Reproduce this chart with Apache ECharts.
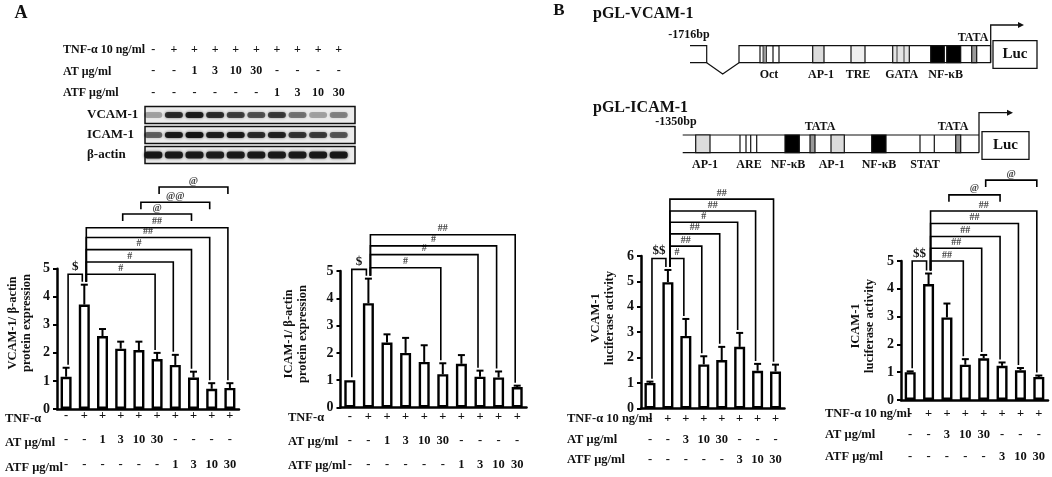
<!DOCTYPE html>
<html>
<head>
<meta charset="utf-8">
<script src="https://cdn.jsdelivr.net/npm/echarts@6/dist/echarts.min.js"></script>
<style>
  html, body { margin: 0; padding: 0; background: #fff; }
  #main { width: 1052px; height: 477px; }
</style>
</head>
<body>
<div id="main"></div>
<script>
// lanes of the western blot and of the protein panels
var laneTnf = ['-', '+', '+', '+', '+', '+', '+', '+', '+', '+'];
var laneAt = ['-', '-', '1', '3', '10', '30', '-', '-', '-', '-'];
var laneAtf = ['-', '-', '-', '-', '-', '-', '1', '3', '10', '30'];
var blotRows = ['VCAM-1', 'ICAM-1', 'β-actin'];
var bandVcam = [0.3, 0.8, 0.9, 0.8, 0.7, 0.62, 0.72, 0.48, 0.3, 0.42];
var bandIcam = [0.55, 0.9, 0.95, 0.88, 0.9, 0.8, 0.85, 0.75, 0.72, 0.6];
var bandActin = [0.92, 0.9, 0.9, 0.88, 0.9, 0.9, 0.9, 0.9, 0.9, 0.92];

// lanes of the luciferase panels
var lucTnf = ['-', '+', '+', '+', '+', '+', '+', '+'];
var lucAt = ['-', '-', '3', '10', '30', '-', '-', '-'];
var lucAtf = ['-', '-', '-', '-', '-', '3', '10', '30'];

// bar heights and tops of the error bars
var vcamProt = [1.15, 3.72, 2.6, 2.15, 2.1, 1.78, 1.57, 1.12, 0.72, 0.75];
var vcamProtTop = [1.47, 4.43, 2.85, 2.4, 2.4, 2.0, 1.93, 1.33, 0.92, 0.92];
var icamProt = [1.0, 3.82, 2.38, 2.0, 1.67, 1.22, 1.6, 1.13, 1.1, 0.75];
var icamProtTop = [1.0, 4.72, 2.68, 2.55, 2.28, 1.62, 1.92, 1.35, 1.32, 0.8];
var vcamLuc = [1.0, 4.97, 2.85, 1.73, 1.9, 2.42, 1.48, 1.45];
var vcamLucTop = [1.05, 5.45, 3.52, 2.05, 2.42, 2.97, 1.75, 1.72];
var icamLuc = [1.0, 4.17, 2.97, 1.27, 1.5, 1.23, 1.07, 0.83];
var icamLucTop = [1.03, 4.55, 3.47, 1.47, 1.62, 1.35, 1.15, 0.88];

// significance brackets: [from, to, level, mark, short legs]
var vcamProtSig = [
  [0, 1, 4.8, '$', 0], [1, 5, 4.8, '#', 0], [1, 6, 5.24, '#', 0], [1, 7, 5.68, '#', 0],
  [1, 8, 6.11, '##', 0], [1, 9, 6.46, '##', 0],
  [3, 7, 6.95, '@', 1], [4, 8, 7.37, '@@', 1], [5, 9, 7.91, '@', 1]
];
var icamProtSig = [
  [0, 1, 5.06, '$', 0], [1, 5, 5.12, '#', 0], [1, 7, 5.6, '#', 0], [1, 8, 5.92, '#', 0],
  [1, 9, 6.33, '##', 0]
];
var vcamLucSig = [
  [0, 1, 5.9, '$$', 0], [1, 2, 5.9, '#', 0], [1, 3, 6.39, '##', 0], [1, 4, 6.87, '##', 0],
  [1, 5, 7.33, '#', 0], [1, 6, 7.77, '##', 0], [1, 7, 8.24, '##', 0]
];
var icamLucSig = [
  [0, 1, 5.0, '$$', 0], [1, 3, 5.0, '##', 0], [1, 4, 5.46, '##', 0], [1, 5, 5.88, '##', 0],
  [1, 6, 6.35, '##', 0], [1, 7, 6.8, '##', 0],
  [2, 5, 7.38, '@', 1], [4, 7, 7.91, '@', 1]
];

var rowNames = ['TNF-α', 'AT μg/ml', 'ATF μg/ml'];
var rowNamesLuc = ['TNF-α 10 ng/ml', 'AT μg/ml', 'ATF μg/ml'];
var yNames = ['VCAM-1/ β-actin\nprotein expression', 'ICAM-1/ β-actin\nprotein expression',
  'VCAM-1\nluciferase activity', 'ICAM-1\nluciferase activity'];

var SERIF = '"Liberation Serif", "DejaVu Serif", serif';
var INK = '#111';

var panels = [
  { vals: vcamProt, tops: vcamProtTop, sig: vcamProtSig, max: 5, tnf: laneTnf, at: laneAt, atf: laneAtf, rows: rowNames,
    grid: { left: 57, top: 268.7, width: 182, height: 143.3 }, lh: 24.5, margin: -5.5, rowX: 5, nameAt: [20, 323] },
  { vals: icamProt, tops: icamProtTop, sig: icamProtSig, max: 5, tnf: laneTnf, at: laneAt, atf: laneAtf, rows: rowNames,
    grid: { left: 340.5, top: 271, width: 186, height: 137.7 }, lh: 24, margin: -2.5, rowX: 288, nameAt: [296, 334] },
  { vals: vcamLuc, tops: vcamLucTop, sig: vcamLucSig, max: 6, tnf: lucTnf, at: lucAt, atf: lucAtf, rows: rowNamesLuc,
    grid: { left: 641, top: 256, width: 143.5, height: 152.3 }, lh: 20.5, margin: 0.5, rowX: 567, nameAt: [603, 318] },
  { vals: icamLuc, tops: icamLucTop, sig: icamLucSig, max: 5, tnf: lucTnf, at: lucAt, atf: lucAtf, rows: rowNamesLuc,
    grid: { left: 901, top: 261, width: 147, height: 139 }, lh: 21.5, margin: 3, rowX: 825, nameAt: [862.5, 326] }
];

function font(size, weight) {
  return (weight || 'bold') + ' ' + size + 'px ' + SERIF;
}

function textStyle(s, size, align, vAlign, extra) {
  var st = { text: s, fill: INK, font: font(size), align: align || 'center', verticalAlign: vAlign || 'middle',
    textAlign: align || 'center', textVerticalAlign: vAlign || 'middle' };
  if (extra) for (var k in extra) st[k] = extra[k];
  return st;
}

// ---- drawing of the custom marks ----
function errItem(params, api) {
  var i = api.value(0), v = api.value(1), t = api.value(2);
  if (t <= v) return;
  var p0 = api.coord([i, v]), p1 = api.coord([i, t]);
  var st = { stroke: '#000', lineWidth: 2 };
  return { type: 'group', children: [
    { type: 'line', shape: { x1: p0[0], y1: p0[1], x2: p1[0], y2: p1[1] }, style: st },
    { type: 'line', shape: { x1: p1[0] - 3.5, y1: p1[1], x2: p1[0] + 3.5, y2: p1[1] }, style: st }
  ] };
}

function bracketItem(tops, sig) {
  return function (params, api) {
    var b = sig[params.dataIndex];
    var pa = api.coord([b[0], b[2]]), pb = api.coord([b[1], b[2]]);
    var xa = pa[0] + 2, xb = pb[0] - 2;
    var ya, yb;
    if (b[4]) {
      ya = yb = pa[1] + 7;
    } else {
      ya = api.coord([b[0], tops[b[0]]])[1] - 3;
      yb = api.coord([b[1], tops[b[1]]])[1] - 3;
    }
    var big = b[3].charAt(0) === '$';
    return { type: 'group', children: [
      { type: 'polyline', shape: { points: [[xa, ya], [xa, pa[1]], [xb, pb[1]], [xb, yb]] },
        style: { fill: null, stroke: '#000', lineWidth: 1.6 } },
      { type: 'text', x: (xa + xb) / 2, y: pa[1] - 1,
        style: textStyle(b[3], big ? 13 : 10, 'center', 'bottom', { fill: big ? INK : '#444' }) }
    ] };
  };
}

function bandItem(params, api) {
  var c = api.coord([api.value(0), api.value(1)]);
  var a = api.value(2);
  var h = api.value(1) === 2 ? 7 : 6;
  return { type: 'rect', shape: { x: c[0] - 9, y: c[1] - h / 2, width: 18, height: h, r: 3 },
    style: { fill: 'rgba(15,15,15,' + a + ')', shadowBlur: 3, shadowColor: 'rgba(15,15,15,' + (a * 0.8) + ')' } };
}

function blotBoxItem(params, api) {
  var cs = params.coordSys;
  var c = api.coord([0, api.value(1)]);
  return { type: 'rect', shape: { x: cs.x + 2, y: c[1] - 8.5, width: cs.width + 4, height: 17 },
    style: { fill: '#ececec', stroke: INK, lineWidth: 1.5 } };
}

// ---- axes and series ----
var grids = [{ left: 143, top: 105, width: 206, height: 60 }];
var xAxes = [{
  gridIndex: 0, type: 'category', position: 'top', data: laneTnf.map(function (v, i) { return String(i); }),
  axisLine: { show: false }, axisTick: { show: false },
  axisLabel: { interval: 0, margin: 1.5, lineHeight: 21.5, color: INK, fontFamily: SERIF, fontWeight: 'bold', fontSize: 12,
    formatter: function (v, i) { return laneTnf[i] + '\n' + laneAt[i] + '\n' + laneAtf[i]; } }
}];
var yAxes = [{
  gridIndex: 0, type: 'category', inverse: true, data: blotRows,
  axisLine: { show: false }, axisTick: { show: false },
  axisLabel: { align: 'left', margin: 56, color: INK, fontFamily: SERIF, fontWeight: 'bold', fontSize: 13 }
}];

var bandData = [];
[bandVcam, bandIcam, bandActin].forEach(function (arr, r) {
  arr.forEach(function (a, lane) { bandData.push([lane, r, a]); });
});

var series = [
  { type: 'custom', xAxisIndex: 0, yAxisIndex: 0, renderItem: blotBoxItem, data: [[0, 0], [0, 1], [0, 2]], z: 1 },
  { type: 'custom', xAxisIndex: 0, yAxisIndex: 0, renderItem: bandItem, data: bandData, z: 2 }
];

panels.forEach(function (p, k) {
  var gi = k + 1;
  grids.push(p.grid);
  xAxes.push({
    gridIndex: gi, type: 'category', data: p.vals.map(function (v, i) { return String(i); }),
    axisLine: { lineStyle: { color: '#000', width: 2.5 } }, axisTick: { show: false },
    axisLabel: { interval: 0, margin: p.margin, lineHeight: p.lh, color: INK, fontFamily: SERIF, fontWeight: 'bold', fontSize: 12.5,
      formatter: function (v, i) { return p.tnf[i] + '\n' + p.at[i] + '\n' + p.atf[i]; } }
  });
  yAxes.push({
    gridIndex: gi, type: 'value', min: 0, max: p.max, interval: 1,
    axisLine: { show: true, lineStyle: { color: '#000', width: 2.5 } },
    axisTick: { show: true, length: 4, lineStyle: { color: '#000', width: 2 } },
    splitLine: { show: false },
    axisLabel: { margin: 7, color: INK, fontFamily: SERIF, fontWeight: 'bold', fontSize: 14 }
  });
  series.push({
    type: 'bar', xAxisIndex: gi, yAxisIndex: gi, data: p.vals, barWidth: 11,
    itemStyle: { color: '#fff', borderColor: '#000', borderWidth: 2.4 }, z: 2
  });
  series.push({
    type: 'custom', xAxisIndex: gi, yAxisIndex: gi, renderItem: errItem, z: 3,
    encode: { x: 0, y: [1, 2] },
    data: p.vals.map(function (v, i) { return [i, v, p.tops[i]]; })
  });
  series.push({
    type: 'custom', xAxisIndex: gi, yAxisIndex: gi, renderItem: bracketItem(p.tops, p.sig), z: 4,
    encode: { x: 0, y: 1 }, clip: false,
    data: p.sig.map(function (b) { return [b[0], b[2]]; })
  });
});

// ---- static drawing: labels, row headers, promoter maps ----
var G = [];
function T(x, y, s, size, align, extra) {
  var el = { type: 'text', x: x, y: y, style: textStyle(s, size || 12, align) };
  if (extra) for (var k in extra) el[k] = extra[k];
  G.push(el);
}
function R(x1, y1, x2, y2, fill, lw) {
  G.push({ type: 'rect', shape: { x: x1, y: y1, width: x2 - x1, height: y2 - y1 },
    style: { fill: fill || 'none', stroke: INK, lineWidth: lw || 1.2 } });
}
function L(points, lw, color) {
  G.push({ type: 'polyline', shape: { points: points }, style: { fill: null, stroke: color || INK, lineWidth: lw || 1.2 } });
}
function arrowHead(x, y) {
  G.push({ type: 'polygon', shape: { points: [[x - 6, y - 3], [x, y], [x - 6, y + 3]] }, style: { fill: INK } });
}

T(21, 13, 'A', 18);
T(559, 11, 'B', 17);

// blot header
rowNamesLuc.forEach(function (s, i) { T(63, 50 + i * 21.5, s, 12, 'left'); });

// row headers and y names of the bar panels
panels.forEach(function (p, k) {
  var bottom = p.grid.top + p.grid.height;
  p.rows.forEach(function (s, i) {
    T(p.rowX, bottom + p.margin + p.lh * (i + 0.5), s, 12.5, 'left');
  });
  G.push({ type: 'text', x: p.nameAt[0], y: p.nameAt[1], rotation: Math.PI / 2,
    style: textStyle(yNames[k], 12.5, 'center', 'middle', { lineHeight: 14 }) });
});

// pGL-VCAM-1 map
var vt = 45.7, vb = 62.7;
T(593, 14, 'pGL-VCAM-1', 16, 'left');
T(689, 35, '-1716bp', 12);
L([[690, vt], [706.7, vt], [706.7, vb], [690, vb]]);
L([[706.7, vb], [722.7, 74], [739, vb]]);
R(739, vt, 990.5, vb);
R(760, vt, 779, vb);
R(763, vt, 766.5, vb, '#999', 0.8);
L([[773, vt], [773, vb]]);
R(812.7, vt, 824, vb, '#dcdcdc');
R(851, vt, 865, vb, '#efefef');
R(892.7, vt, 909.3, vb, '#e4e4e4');
L([[897, vt], [897, vb]], 0.8);
L([[904, vt], [904, vb]], 0.8);
R(930.7, vt, 944.3, vb, '#000');
R(946.7, vt, 960.7, vb, '#000');
R(971.7, vt, 976.7, vb, '#999');
[['Oct', 769], ['AP-1', 821], ['TRE', 858], ['GATA', 901.7], ['NF-κB', 945.7]].forEach(function (e) {
  T(e[1], 75, e[0], 12);
});
T(973, 38, 'TATA', 12);
L([[990.7, vb], [990.7, 25], [1018, 25]], 1.3);
arrowHead(1024, 25);
R(993, 40.7, 1037, 68.3, '#fff', 1.3);
T(1015, 54.5, 'Luc', 15);

// pGL-ICAM-1 map
var it = 135, ib = 152.7;
T(593, 108, 'pGL-ICAM-1', 16, 'left');
T(676, 122, '-1350bp', 12);
L([[682.7, it], [979, it]]);
L([[682.7, ib], [979, ib]]);
R(695.7, it, 710, ib, '#dcdcdc');
[740, 746, 750.7, 756.7].forEach(function (x) { L([[x, it], [x, ib]]); });
R(785, it, 799.3, ib, '#000');
R(810, it, 815, ib, '#999');
R(831, it, 844.3, ib, '#dcdcdc');
R(871.7, it, 886, ib, '#000');
L([[920, it], [920, ib]]);
L([[934.3, it], [934.3, ib]]);
R(955.7, it, 960.7, ib, '#999');
[['AP-1', 705], ['ARE', 749], ['NF-κB', 788], ['AP-1', 831.7], ['NF-κB', 879], ['STAT', 925]].forEach(function (e) {
  T(e[1], 165, e[0], 12);
});
T(820, 126.7, 'TATA', 12);
T(953, 126.7, 'TATA', 12);
L([[979, ib], [979, 112.7], [1007, 112.7]], 1.3);
arrowHead(1013, 112.7);
R(982, 131.7, 1029, 159.3, '#fff', 1.3);
T(1005.5, 145.5, 'Luc', 15);

var chart = echarts.init(document.getElementById('main'));
chart.setOption({
  animation: false,
  backgroundColor: '#fff',
  grid: grids,
  xAxis: xAxes,
  yAxis: yAxes,
  series: series,
  graphic: { elements: G }
});
</script>
</body>
</html>
